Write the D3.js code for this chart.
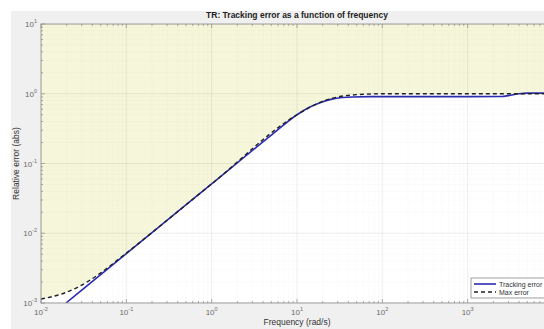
<!DOCTYPE html>
<html>
<head>
<meta charset="utf-8">
<script src="https://cdn.jsdelivr.net/npm/d3@7"></script>
<style>
  body { margin: 0; background: #fff; }
  text { font-family: "Liberation Sans", Arial, sans-serif; }
</style>
</head>
<body>
<svg id="chart" width="544" height="329"></svg>
<script>
var trackFreq  = [0.0196, 0.1, 1, 5, 10, 14, 19, 25, 32, 45, 70, 200, 1000, 2500, 3000, 4000, 5000, 10000];
var trackError = [0.001, 0.0051, 0.051, 0.255, 0.50, 0.64, 0.75, 0.83, 0.875, 0.90, 0.91, 0.91, 0.91, 0.915, 0.94, 1.0, 1.02, 1.02];
var maxFreq  = [0.01, 0.02, 0.037, 0.05, 0.1, 1, 10, 19, 30, 50, 100, 10000];
var maxError = [0.00114, 0.00143, 0.0021, 0.0027, 0.0052, 0.051, 0.50, 0.76, 0.90, 0.97, 1.0, 1.0];
var xDecades = [-2, -1, 0, 1, 2, 3, 4];
var yDecades = [-3, -2, -1, 0, 1];

var svg = d3.select("#chart");

// plot box (window.top is read-only, so use other names)
var pLeft = 41, pTop = 24, pRight = 553, pBottom = 303;

// figure background
svg.append("rect").attr("x", 11).attr("y", 11).attr("width", 600).attr("height", 400).attr("fill", "#f0f0f0");
svg.append("rect").attr("x", pLeft).attr("y", pTop).attr("width", pRight - pLeft).attr("height", pBottom - pTop).attr("fill", "#fff");

var x = d3.scaleLog().domain([1e-2, 1e4]).range([pLeft, pRight]);
var y = d3.scaleLog().domain([1e-3, 1e1]).range([pBottom, pTop]);

svg.append("clipPath").attr("id", "clip")
  .append("rect").attr("x", pLeft).attr("y", pTop).attr("width", pRight - pLeft).attr("height", pBottom - pTop);

var plot = svg.append("g").attr("clip-path", "url(#clip)");

var maxPts = maxFreq.map(function(f, i) { return [f, maxError[i]]; });
var trackPts = trackFreq.map(function(f, i) { return [f, trackError[i]]; });

// shaded region above max error
var area = d3.area()
  .x(function(d) { return x(d[0]); })
  .y0(pTop)
  .y1(function(d) { return y(d[1]); })
  .curve(d3.curveMonotoneX);
plot.append("path").datum(maxPts).attr("d", area).attr("fill", "#f6f6da");

// grid
var minorX = [], minorY = [];
xDecades.forEach(function(e) { for (var k = 2; k <= 9; k++) minorX.push(k * Math.pow(10, e)); });
yDecades.slice(0, -1).forEach(function(e) { for (var k = 2; k <= 9; k++) minorY.push(k * Math.pow(10, e)); });

plot.selectAll(".mx").data(minorX).enter().append("line")
  .attr("x1", function(d) { return x(d); }).attr("x2", function(d) { return x(d); })
  .attr("y1", pTop).attr("y2", pBottom)
  .attr("stroke", "#000").attr("stroke-opacity", 0.06).attr("stroke-width", 0.6).attr("stroke-dasharray", "1,1");
plot.selectAll(".my").data(minorY).enter().append("line")
  .attr("y1", function(d) { return y(d); }).attr("y2", function(d) { return y(d); })
  .attr("x1", pLeft).attr("x2", pRight)
  .attr("stroke", "#000").attr("stroke-opacity", 0.06).attr("stroke-width", 0.6).attr("stroke-dasharray", "1,1");
plot.selectAll(".gx").data(xDecades).enter().append("line")
  .attr("x1", function(d) { return x(Math.pow(10, d)); }).attr("x2", function(d) { return x(Math.pow(10, d)); })
  .attr("y1", pTop).attr("y2", pBottom)
  .attr("stroke", "#000").attr("stroke-opacity", 0.09).attr("stroke-width", 0.8);
plot.selectAll(".gy").data(yDecades).enter().append("line")
  .attr("y1", function(d) { return y(Math.pow(10, d)); }).attr("y2", function(d) { return y(Math.pow(10, d)); })
  .attr("x1", pLeft).attr("x2", pRight)
  .attr("stroke", "#000").attr("stroke-opacity", 0.09).attr("stroke-width", 0.8);

// curves
var line = d3.line()
  .x(function(d) { return x(d[0]); })
  .y(function(d) { return y(d[1]); })
  .curve(d3.curveMonotoneX);

plot.append("path").datum(trackPts).attr("d", line)
  .attr("fill", "none").attr("stroke", "#2b2bb0").attr("stroke-width", 1.6);
plot.append("path").datum(maxPts).attr("d", line)
  .attr("fill", "none").attr("stroke", "#222").attr("stroke-width", 1.4).attr("stroke-dasharray", "4,3");

// axes box and ticks
var axisColor = "#8a8a8a";
svg.append("rect").attr("x", pLeft).attr("y", pTop).attr("width", pRight - pLeft).attr("height", pBottom - pTop)
  .attr("fill", "none").attr("stroke", axisColor).attr("stroke-width", 0.8);

var ticks = svg.append("g").attr("stroke", axisColor).attr("stroke-width", 0.7);
xDecades.forEach(function(d) {
  var px = x(Math.pow(10, d));
  ticks.append("line").attr("x1", px).attr("x2", px).attr("y1", pBottom).attr("y2", pBottom - 4);
  ticks.append("line").attr("x1", px).attr("x2", px).attr("y1", pTop).attr("y2", pTop + 4);
});
minorX.forEach(function(d) {
  var px = x(d);
  ticks.append("line").attr("x1", px).attr("x2", px).attr("y1", pBottom).attr("y2", pBottom - 2);
  ticks.append("line").attr("x1", px).attr("x2", px).attr("y1", pTop).attr("y2", pTop + 2);
});
yDecades.forEach(function(d) {
  var py = y(Math.pow(10, d));
  ticks.append("line").attr("x1", pLeft).attr("x2", pLeft + 4).attr("y1", py).attr("y2", py);
});
minorY.forEach(function(d) {
  var py = y(d);
  ticks.append("line").attr("x1", pLeft).attr("x2", pLeft + 2).attr("y1", py).attr("y2", py);
});

// tick labels (10^4 falls outside the window)
var labelColor = "#6a6a6a";
xDecades.slice(0, -1).forEach(function(d) {
  var t = svg.append("text").attr("x", x(Math.pow(10, d))).attr("y", 315)
    .attr("text-anchor", "middle").attr("font-size", 8).attr("fill", labelColor);
  t.append("tspan").text("10");
  t.append("tspan").attr("dy", -4).attr("font-size", 5.5).text(d);
});
yDecades.forEach(function(d) {
  var t = svg.append("text").attr("x", 37).attr("y", y(Math.pow(10, d)) + 3)
    .attr("text-anchor", "end").attr("font-size", 8).attr("fill", labelColor);
  t.append("tspan").text("10");
  t.append("tspan").attr("dy", -4).attr("font-size", 5.5).text(d);
});

// title and axis labels
svg.append("text").attr("x", (pLeft + pRight) / 2).attr("y", 18)
  .attr("text-anchor", "middle").attr("font-size", 8.5).attr("font-weight", "bold").attr("fill", "#222")
  .text("TR: Tracking error as a function of frequency");
svg.append("text").attr("x", (pLeft + pRight) / 2).attr("y", 325)
  .attr("text-anchor", "middle").attr("font-size", 8.5).attr("fill", "#333")
  .text("Frequency (rad/s)");
svg.append("text").attr("transform", "translate(19," + ((pTop + pBottom) / 2) + ") rotate(-90)")
  .attr("text-anchor", "middle").attr("font-size", 8.5).attr("fill", "#333")
  .text("Relative error (abs)");

// legend
var lg = svg.append("g").attr("transform", "translate(471,278)");
lg.append("rect").attr("width", 90).attr("height", 20).attr("fill", "#fff").attr("stroke", "#777").attr("stroke-width", 0.7);
lg.append("line").attr("x1", 3).attr("x2", 25).attr("y1", 6).attr("y2", 6).attr("stroke", "#2b2bb0").attr("stroke-width", 1.6);
lg.append("line").attr("x1", 3).attr("x2", 25).attr("y1", 14).attr("y2", 14).attr("stroke", "#222").attr("stroke-width", 1.4).attr("stroke-dasharray", "4,3");
lg.append("text").attr("x", 28).attr("y", 8.5).attr("font-size", 7).attr("fill", "#333").text("Tracking error");
lg.append("text").attr("x", 28).attr("y", 16.5).attr("font-size", 7).attr("fill", "#333").text("Max error");
</script>
</body>
</html>
